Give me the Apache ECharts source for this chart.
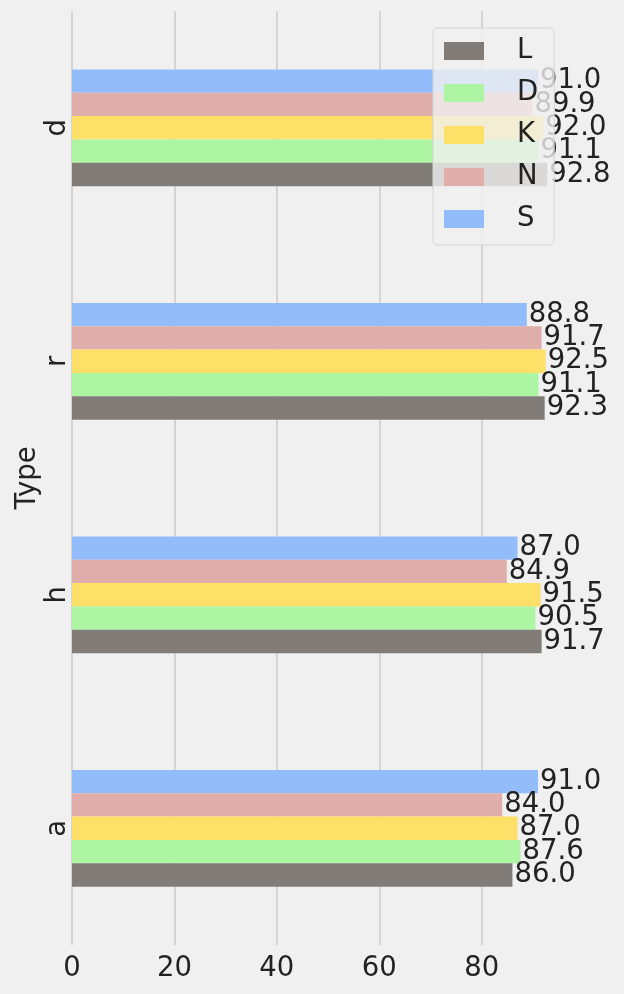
<!DOCTYPE html>
<html>
<head>
<meta charset="utf-8">
<script src="https://cdn.jsdelivr.net/npm/echarts@6/dist/echarts.min.js"></script>
<style>
  html, body { margin: 0; padding: 0; background: #f0f0f0; }
  #main { width: 624px; height: 994px; }
</style>
</head>
<body>
<div id="main"></div>
<script>
const categories = ["a", "h", "r", "d"];
const seriesNames = ["L", "D", "K", "N", "S"];
const valuesL = [86.0, 91.7, 92.3, 92.8];
const valuesD = [87.6, 90.5, 91.1, 91.1];
const valuesK = [87.0, 91.5, 92.5, 92.0];
const valuesN = [84.0, 84.9, 91.7, 89.9];
const valuesS = [91.0, 87.0, 88.8, 91.0];
const xTicks = [0, 20, 40, 60, 80];

const colors = ["#817c78", "#adf5a2", "#fce067", "#e0aeaa", "#93bdfa"];
const allValues = [valuesL, valuesD, valuesK, valuesN, valuesS];
const font = "DejaVu Sans";
const fs = 27.5;

// echarts stacks the first series at the top of a band, so feed them reversed
const series = seriesNames.map(function (name, i) {
  return {
    name: name,
    type: "bar",
    data: allValues[i],
    barGap: 0,
    barCategoryGap: "50%",
    itemStyle: { color: colors[i] },
    label: {
      show: true,
      position: "right",
      distance: 2,
      fontFamily: font,
      fontSize: fs,
      color: "#222",
      formatter: function (p) { return p.value.toFixed(1); }
    }
  };
}).reverse();

const myChart = echarts.init(document.getElementById("main"));
myChart.setOption({
  backgroundColor: "#f0f0f0",
  animation: false,
  textStyle: { fontFamily: font },
  grid: { left: 72, right: 53, top: 11, bottom: 49, outerBoundsMode: "none", containLabel: false },
  legend: {
    data: seriesNames,
    orient: "vertical",
    left: 433,
    top: 28,
    z: 10,
    padding: [9, 16, 12, 11],
    itemGap: 14,
    itemWidth: 40,
    itemHeight: 18,
    icon: "rect",
    backgroundColor: "rgba(240,240,240,0.8)",
    borderColor: "#d4d4d4",
    borderWidth: 1,
    borderRadius: 5,
    textStyle: { fontFamily: font, fontSize: fs, color: "#222", padding: [0, 0, 0, 28] }
  },
  xAxis: {
    type: "value",
    min: 0,
    max: 97.44,
    interval: 20,
    axisLine: { show: false },
    axisTick: { show: false },
    splitLine: { showMaxLine: false, lineStyle: { color: "#cbcbcb", width: 1.5 } },
    axisLabel: {
      margin: 10,
      fontFamily: font,
      fontSize: fs,
      color: "#222",
      showMaxLabel: false,
      formatter: function (v) { return xTicks.indexOf(v) >= 0 ? String(v) : ""; }
    }
  },
  yAxis: {
    type: "category",
    data: categories,
    name: "Type",
    nameLocation: "middle",
    nameRotate: 90,
    nameGap: 30,
    nameMoveOverlap: false,
    nameTextStyle: { fontFamily: font, fontSize: fs, color: "#222" },
    axisLine: { show: false },
    axisTick: { show: false },
    splitLine: { show: false },
    axisLabel: {
      rotate: 90,
      margin: 0,
      fontFamily: font,
      fontSize: fs,
      color: "#222"
    }
  },
  series: series
});
window.onresize = function () {
  myChart.resize();
};
</script>
</body>
</html>
